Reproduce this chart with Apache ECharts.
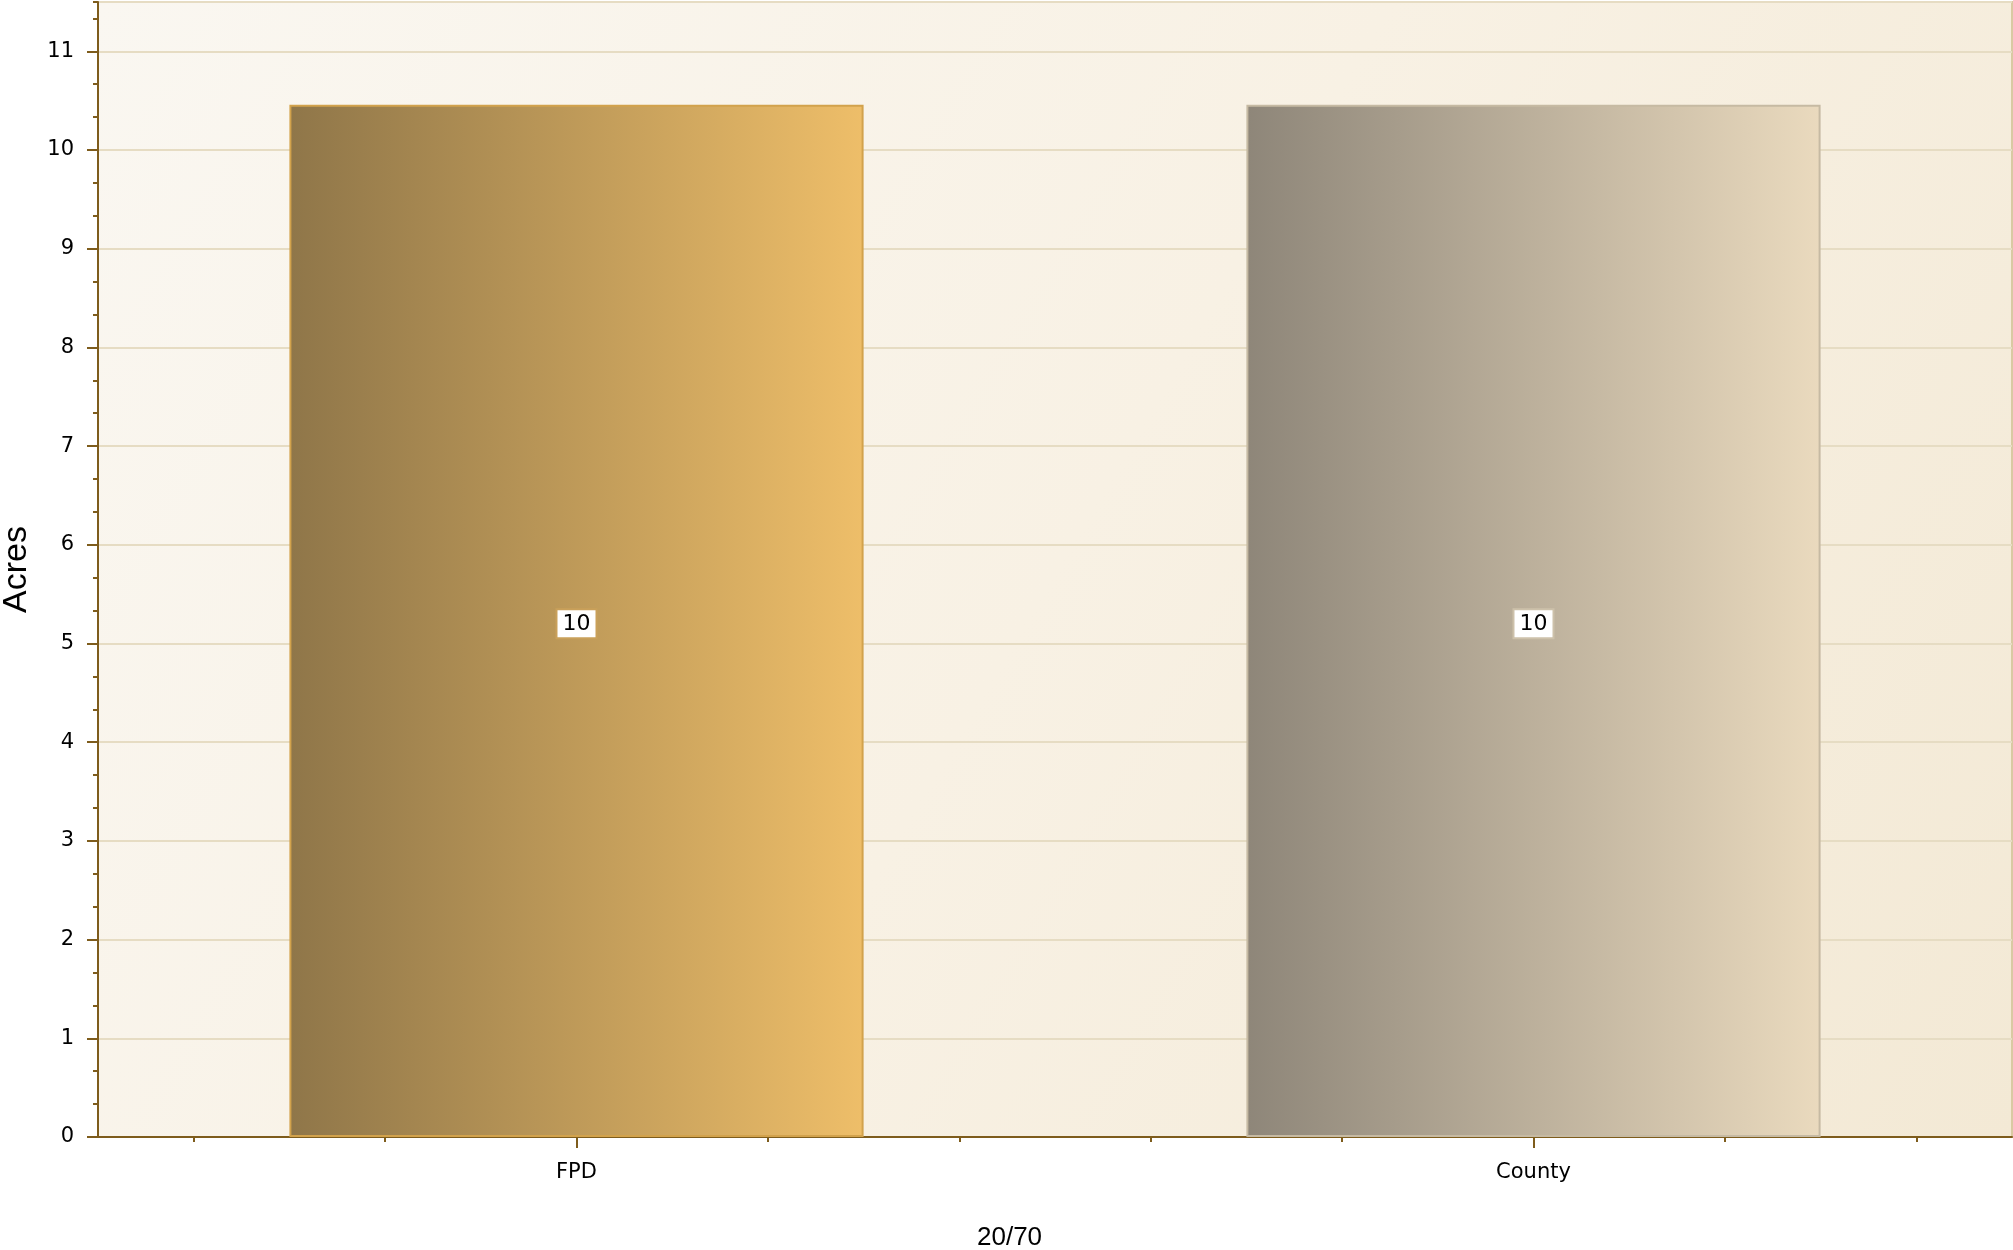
<!DOCTYPE html>
<html>
<head>
<meta charset="utf-8">
<title>Acres — FPD vs County</title>
<script src="https://cdn.jsdelivr.net/npm/echarts@6/dist/echarts.min.js"></script>
<style>
  html, body { margin: 0; padding: 0; background: #ffffff; }
  #chart { width: 2013px; height: 1250px; }
</style>
</head>
<body>
<div id="chart"></div>
<script>
// Categories and acreage values
const categories = ['FPD', 'County'];
const acres = [10.46, 10.46];
const yTicks = [0, 1, 2, 3, 4, 5, 6, 7, 8, 9, 10, 11];
const xTitle = '20/70';
const yTitle = 'Acres';
// ten evenly spaced slots used only for the small ticks along the bottom
const xMinorSlots = ['', '', '', '', '', '', '', '', '', ''];

// Bar fills: horizontal gradient per category, plus an edge colour
const barFills = [
  { from: '#8f7649', to: '#eebe69', edge: '#d2a24c', labelEdge: '#c9a05a' },
  { from: '#8e8679', to: '#eadabe', edge: '#c6baa3', labelEdge: '#cdc1aa' }
];

const AXIS_BROWN = '#7e5c1c';
const FONT = '"DejaVu Sans", Verdana, sans-serif';

const chart = echarts.init(document.getElementById('chart'), null, { renderer: 'canvas' });

const hGrad = (c1, c2) => new echarts.graphic.LinearGradient(0, 0, 1, 0, [
  { offset: 0, color: c1 }, { offset: 1, color: c2 }
]);

chart.setOption({
  animation: false,
  backgroundColor: '#ffffff',
  title: {
    text: xTitle,
    left: 972,
    top: 1220,
    textStyle: { fontFamily: '"Liberation Sans", Arial, sans-serif', fontSize: 26, fontWeight: 'normal', color: '#000' }
  },
  grid: {
    left: 98, right: 1, top: 2, bottom: 113,
    containLabel: false,
    outerBoundsMode: 'none',
    show: true,
    borderColor: '#d9c9a3',
    borderWidth: 2,
    backgroundColor: new echarts.graphic.LinearGradient(0, 0, 1, 1, [
      { offset: 0, color: '#faf7f1' },
      { offset: 0.5, color: '#f8f1e4' },
      { offset: 1, color: '#f3e9d5' }
    ])
  },
  xAxis: [
    {
      type: 'category',
      data: categories,
      boundaryGap: true,
      axisLine: { show: true, lineStyle: { color: AXIS_BROWN, width: 2 } },
      axisTick: { show: true, alignWithLabel: true, interval: 0, length: 11, lineStyle: { color: AXIS_BROWN, width: 2 } },
      axisLabel: { margin: 25, fontFamily: FONT, fontSize: 21, color: '#000' },
      splitLine: { show: false }
    },
    {
      type: 'category',
      data: xMinorSlots,
      position: 'bottom',
      boundaryGap: true,
      axisLine: { show: false },
      axisTick: { show: true, alignWithLabel: true, interval: 0, length: 5, lineStyle: { color: AXIS_BROWN, width: 2 } },
      axisLabel: { show: false },
      splitLine: { show: false }
    }
  ],
  yAxis: [
    {
      type: 'value',
      min: 0, max: 11.5, interval: 1,
      name: yTitle,
      nameLocation: 'middle',
      nameRotate: 90,
      nameGap: 64,
      nameTextStyle: { fontFamily: '"Liberation Sans", Arial, sans-serif', fontSize: 34, color: '#000' },
      axisLine: { show: true, lineStyle: { color: AXIS_BROWN, width: 2 } },
      axisTick: { show: true, length: 11, lineStyle: { color: AXIS_BROWN, width: 2 } },
      axisLabel: {
        margin: 24, fontFamily: FONT, fontSize: 21, color: '#000',
        showMaxLabel: false,
        formatter: v => (yTicks.indexOf(v) >= 0 ? String(v) : '')
      },
      splitLine: { show: true, lineStyle: { color: '#e6dcc3', width: 2 } }
    },
    {
      // minor tick marks, three per unit
      type: 'value',
      position: 'left',
      min: 0, max: 34.5, interval: 1,
      axisLine: { show: false },
      axisTick: { show: true, length: 5, lineStyle: { color: AXIS_BROWN, width: 2 } },
      axisLabel: { show: false },
      splitLine: { show: false }
    }
  ],
  series: [
    {
      type: 'bar',
      xAxisIndex: 0,
      yAxisIndex: 0,
      barWidth: '60%',
      data: acres.map((v, i) => ({
        value: v,
        itemStyle: {
          color: hGrad(barFills[i].from, barFills[i].to),
          borderColor: barFills[i].edge,
          borderWidth: 2
        },
        label: { borderColor: barFills[i].labelEdge }
      })),
      label: {
        show: true,
        position: 'inside',
        offset: [0, 3],
        formatter: p => String(Math.round(p.value)),
        fontFamily: FONT,
        fontSize: 22,
        lineHeight: 22,
        color: '#000',
        backgroundColor: '#ffffff',
        borderWidth: 2,
        padding: [3, 5, 2, 5]
      }
    }
  ]
});
</script>
</body>
</html>
